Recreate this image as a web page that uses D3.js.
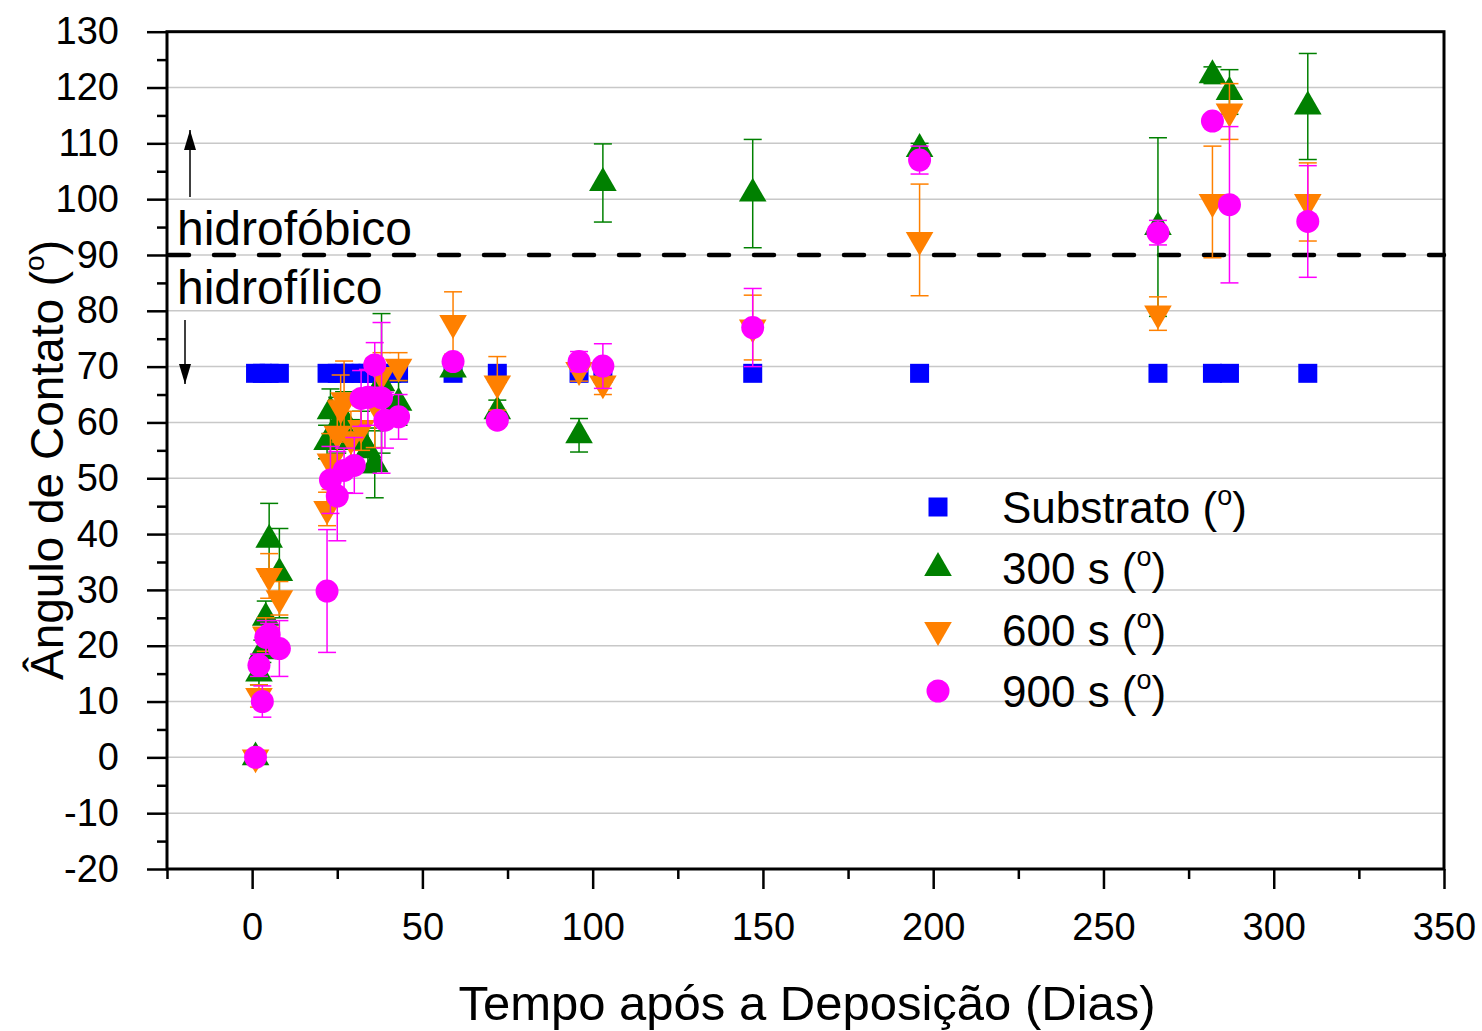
<!DOCTYPE html>
<html>
<head>
<meta charset="utf-8">
<script src="https://cdn.jsdelivr.net/npm/d3@7"></script>
<style>
  body { margin: 0; background: #fff; }
  text { font-family: "Liberation Sans", Arial, sans-serif; fill: #000; }
</style>
</head>
<body>
<script>
// Page size.
const WIDTH = 1482;
const HEIGHT = 1031;

// Substrate (blue squares)
const subDays = [1, 3, 5, 8, 22, 25, 27, 29, 32, 34, 36, 38, 41, 43, 59, 72, 96, 103, 147, 196, 266, 282, 287, 310];
const subAngle = subDays.map(() => 68.8);

// 300 s (green up triangles)
const g300Days  = [1, 2, 3, 4, 5, 8, 22, 23, 25, 27, 29, 32, 34, 36, 38, 43, 59, 72, 96, 103, 147, 196, 266, 282, 287, 310];
const g300Angle = [0, 15, 19, 25, 39, 33, 56.5, 62, 59.5, 60.5, 56.5, 57, 55, 52.5, 67, 63.5, 69.5, 62, 57.7, 102.9, 101, 109, 95, 122.2, 119.2, 116.6];
const g300Err   = [0.5, 2, 2, 3, 6.5, 8, 3, 4, 5, 5, 4, 5, 4, 6, 12.5, 4, 1, 2, 3, 7, 9.7, 1, 16, 1.5, 4, 9.5];

// 600 s (orange down triangles)
const g600Days  = [1, 2, 4, 5, 8, 22, 23, 25, 26, 27, 29, 32, 36, 38, 43, 59, 72, 96, 103, 147, 196, 266, 282, 287, 310];
const g600Angle = [0, 11, 22, 32.5, 28.5, 44.5, 53, 58, 62.5, 64, 57, 59, 63.5, 68.5, 70, 77.8, 67, 69.4, 67, 77, 92.7, 79.5, 99.5, 115.7, 99.5];
const g600Err   = [0.5, 2, 3, 4, 3, 3, 5, 6, 6, 7, 5, 4, 8, 4, 2.5, 5.6, 4.8, 2, 2, 5.8, 10, 3, 10, 5, 7];

// 900 s (magenta circles)
const g900Days  = [1, 2, 3, 4, 5, 8, 22, 23, 25, 27, 30, 32, 34, 36, 38, 39, 43, 59, 72, 96, 103, 147, 196, 266, 282, 287, 310];
const g900Angle = [0, 16.5, 10, 21.5, 22, 19.5, 29.8, 49.7, 46.8, 51.4, 52.3, 64.3, 64.5, 70.3, 64.4, 60.4, 61, 70.9, 60.4, 70.9, 70.1, 77, 107, 94, 114, 99, 96];
const g900Err   = [0.5, 2, 2.8, 3, 2, 5, 11, 6, 8, 4, 5, 5, 5, 4, 13.5, 5, 4, 1, 1, 1.8, 4, 7, 2.5, 2.2, 1, 14, 10];

// Axis ticks
const xMajor = [0, 50, 100, 150, 200, 250, 300, 350];
const xMinor = [-25, 25, 75, 125, 175, 225, 275, 325];
const yMajor = [-20, -10, 0, 10, 20, 30, 40, 50, 60, 70, 80, 90, 100, 110, 120, 130];
const yMinor = [-15, -5, 5, 15, 25, 35, 45, 55, 65, 75, 85, 95, 105, 115, 125];

const svg = d3.select("body").append("svg").attr("width", WIDTH).attr("height", HEIGHT);

const x = d3.scaleLinear().domain([-25, 350]).range([167, 1444]);
const y = d3.scaleLinear().domain([-20, 130]).range([869, 31.7]);

// Grid lines
svg.append("g").selectAll("line").data(yMajor.filter(v => v > -20 && v < 130))
  .enter().append("line")
  .attr("x1", x(-25)).attr("x2", x(350))
  .attr("y1", d => y(d)).attr("y2", d => y(d))
  .attr("stroke", "#c8c8c8").attr("stroke-width", 1.5);

// Axes (ticks outside)
const num = d => String(d).replace("\u2212", "-");
function styleAxis(g) {
  g.selectAll(".domain").remove();
  g.selectAll(".tick line").attr("stroke", "#000").attr("stroke-width", 2.5);
  g.selectAll(".tick text").style("font-size", "38px").style("font-family", "'Liberation Sans', Arial, sans-serif");
}
svg.append("g").attr("transform", `translate(0,${y(-20)})`)
  .call(d3.axisBottom(x).tickValues(xMajor).tickSize(20).tickPadding(24).tickFormat(num))
  .call(styleAxis);
svg.append("g").attr("transform", `translate(0,${y(-20)})`)
  .call(d3.axisBottom(x).tickValues(xMinor).tickSize(10).tickFormat(""))
  .call(styleAxis);
svg.append("g").attr("transform", `translate(${x(-25)},0)`)
  .call(d3.axisLeft(y).tickValues(yMajor).tickSize(20).tickPadding(28).tickFormat(num))
  .call(styleAxis);
svg.append("g").attr("transform", `translate(${x(-25)},0)`)
  .call(d3.axisLeft(y).tickValues(yMinor).tickSize(10).tickFormat(""))
  .call(styleAxis);

// Frame
svg.append("rect")
  .attr("x", x(-25)).attr("y", y(130))
  .attr("width", x(350) - x(-25)).attr("height", y(-20) - y(130))
  .attr("fill", "none").attr("stroke", "#000").attr("stroke-width", 3);

// 90 degree dashed line
svg.append("line")
  .attr("x1", x(-25) + 2).attr("x2", x(350))
  .attr("y1", y(90)).attr("y2", y(90))
  .attr("stroke", "#000").attr("stroke-width", 4.5)
  .attr("stroke-dasharray", "20 25").attr("stroke-linecap", "round");

// Region labels and arrows
svg.append("text").attr("x", 177).attr("y", 245).style("font-size", "48px").text("hidrofóbico");
svg.append("text").attr("x", 177).attr("y", 304).style("font-size", "48px").text("hidrofílico");
svg.append("defs").append("marker")
  .attr("id", "ah").attr("viewBox", "0 0 10 10").attr("refX", 10).attr("refY", 5)
  .attr("markerWidth", 20).attr("markerHeight", 12).attr("markerUnits", "userSpaceOnUse")
  .attr("orient", "auto").attr("preserveAspectRatio", "none")
  .append("path").attr("d", "M0,0 L10,5 L0,10 z").attr("fill", "#000");
svg.append("line").attr("x1", 190).attr("x2", 190).attr("y1", 197).attr("y2", 130)
  .attr("stroke", "#000").attr("stroke-width", 1.5).attr("marker-end", "url(#ah)");
svg.append("line").attr("x1", 185).attr("x2", 185).attr("y1", 320).attr("y2", 384)
  .attr("stroke", "#000").attr("stroke-width", 1.5).attr("marker-end", "url(#ah)");

// Data series
const series = [
  { days: subDays, vals: subAngle, errs: null, color: "#0000ff", sym: d3.symbolSquare, size: 19 * 19, name: "Substrato (" },
  { days: g300Days, vals: g300Angle, errs: g300Err, color: "#008000", sym: d3.symbolTriangle, size: 330, name: "300 s (" },
  { days: g600Days, vals: g600Angle, errs: g600Err, color: "#ff8000", sym: d3.symbolTriangle, size: 330, flip: true, name: "600 s (" },
  { days: g900Days, vals: g900Angle, errs: g900Err, color: "#ff00ff", sym: d3.symbolCircle, size: Math.PI * 11.5 * 11.5, name: "900 s (" }
];

series.forEach(s => {
  const g = svg.append("g");
  const pts = s.days.map((d, i) => ({ d: d, v: s.vals[i], e: s.errs ? s.errs[i] : 0 }));
  if (s.errs) {
    const eb = g.selectAll(".eb").data(pts).enter().append("g");
    eb.append("line")
      .attr("x1", p => x(p.d)).attr("x2", p => x(p.d))
      .attr("y1", p => y(p.v - p.e)).attr("y2", p => y(p.v + p.e))
      .attr("stroke", s.color).attr("stroke-width", 1.5);
    [-1, 1].forEach(sg => {
      eb.append("line")
        .attr("x1", p => x(p.d) - 9).attr("x2", p => x(p.d) + 9)
        .attr("y1", p => y(p.v + sg * p.e)).attr("y2", p => y(p.v + sg * p.e))
        .attr("stroke", s.color).attr("stroke-width", 1.5);
    });
  }
  g.selectAll(".pt").data(pts).enter().append("path")
    .attr("d", d3.symbol().type(s.sym).size(s.size))
    .attr("transform", p => `translate(${x(p.d)},${y(p.v)})` + (s.flip ? " rotate(180)" : ""))
    .attr("fill", s.color);
});

// Legend
const legY = [507, 568, 630, 691];
series.forEach((s, i) => {
  svg.append("path")
    .attr("d", d3.symbol().type(s.sym).size(s.size))
    .attr("transform", `translate(938,${legY[i]})` + (s.flip ? " rotate(180)" : ""))
    .attr("fill", s.color);
  const t = svg.append("text").attr("x", 1002).attr("y", legY[i] + 16).style("font-size", "44px");
  t.append("tspan").text(s.name);
  t.append("tspan").attr("dy", -18).style("font-size", "27px").text("o");
  t.append("tspan").attr("dy", 18).text(")");
});

// Axis titles
svg.append("text").attr("x", 807).attr("y", 1020).attr("text-anchor", "middle")
  .style("font-size", "49px").text("Tempo após a Deposição (Dias)");
const yt = svg.append("text").attr("transform", "translate(63,460) rotate(-90)")
  .attr("text-anchor", "middle").style("font-size", "46px");
yt.append("tspan").text("Ângulo de Contato (");
yt.append("tspan").attr("dy", -19).style("font-size", "28px").text("o");
yt.append("tspan").attr("dy", 19).text(")");
</script>
</body>
</html>
